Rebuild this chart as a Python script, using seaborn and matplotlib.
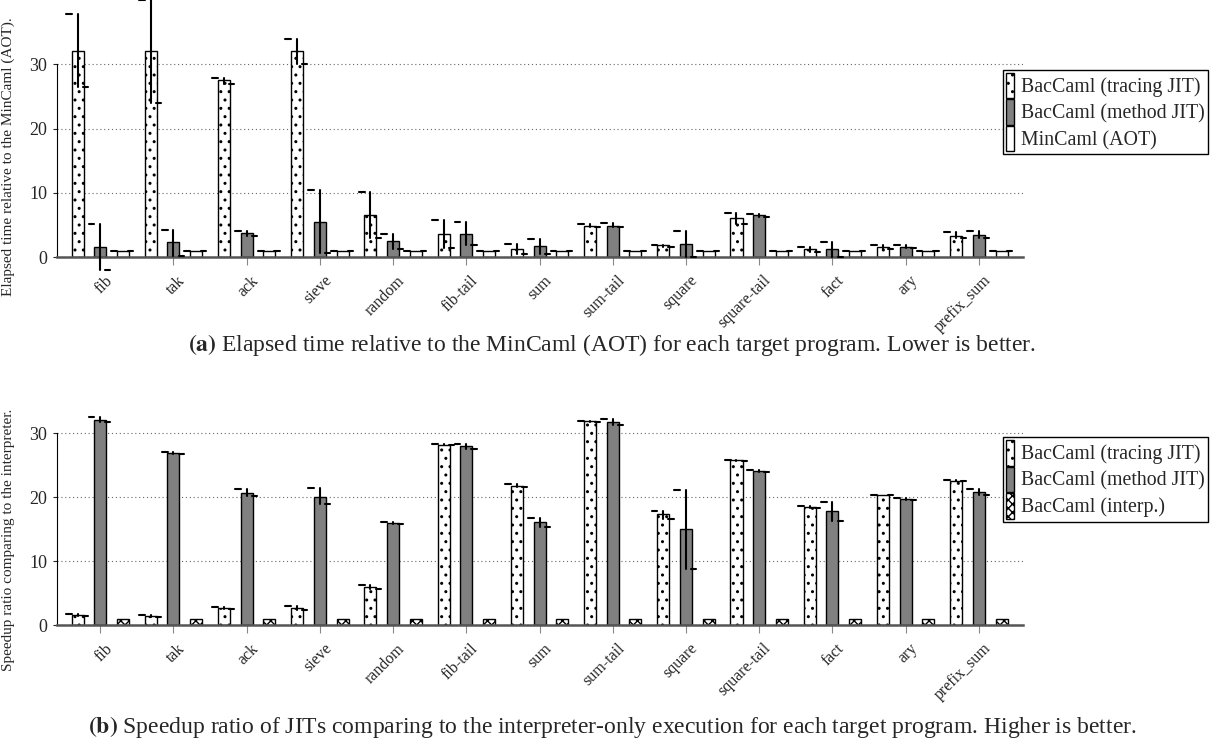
import numpy as np
import pandas as pd
import matplotlib
matplotlib.use('Agg')
import matplotlib.pyplot as plt
import matplotlib.transforms as mtrans
import seaborn as sns

programs = ['fib', 'tak', 'ack', 'sieve', 'random', 'fib-tail', 'sum', 'sum-tail',
            'square', 'square-tail', 'fact', 'ary', 'prefix_sum']

# %% (a) elapsed time relative to MinCaml (AOT)
a_tracing    = [32.0, 32.0, 27.5, 32.0, 6.5, 3.65, 1.3, 4.9, 1.8, 6.0, 1.3, 1.6, 3.3]
a_tracing_lo = [26.5, 24.0, 27.0, 30.0, 2.9, 1.4, 0.4, 4.6, 1.6, 5.2, 0.8, 1.3, 3.0]
a_tracing_hi = [37.8, 40.0, 27.8, 34.0, 10.1, 5.7, 2.0, 5.2, 1.9, 6.9, 1.5, 1.9, 3.9]
a_method     = [1.6, 2.3, 3.7, 5.5, 2.5, 3.65, 1.7, 4.9, 2.0, 6.5, 1.2, 1.6, 3.5]
a_method_lo  = [-2.0, 0.2, 3.3, 0.6, 1.2, 1.8, 0.5, 4.6, 0.0, 6.2, 0.0, 1.4, 3.0]
a_method_hi  = [5.2, 4.2, 4.1, 10.4, 3.6, 5.5, 2.8, 5.3, 4.1, 6.7, 2.3, 1.9, 4.1]
a_aot        = [1.0, 1.0, 1.0, 1.0, 1.0, 1.0, 1.0, 1.0, 1.0, 1.0, 1.0, 1.0, 1.0]

# %% (b) speedup ratio compared to the interpreter
b_tracing    = [1.55, 1.45, 2.7, 2.7, 6.0, 28.2, 21.8, 31.9, 17.3, 25.8, 18.5, 20.3, 22.6]
b_tracing_lo = [1.4, 1.3, 2.5, 2.4, 5.7, 28.1, 21.6, 31.8, 16.6, 25.7, 18.3, 20.3, 22.5]
b_tracing_hi = [1.7, 1.6, 2.9, 3.0, 6.3, 28.3, 22.0, 32.0, 17.8, 25.9, 18.6, 20.4, 22.7]
b_method     = [32.1, 27.0, 20.7, 20.1, 16.0, 28.0, 16.1, 31.8, 15.1, 24.1, 17.8, 19.7, 20.8]
b_method_lo  = [31.7, 26.8, 20.2, 19.0, 15.8, 27.5, 15.3, 31.3, 8.8, 23.9, 16.3, 19.5, 20.4]
b_method_hi  = [32.5, 27.1, 21.3, 21.4, 16.2, 28.4, 16.7, 32.3, 21.2, 24.2, 19.3, 19.9, 21.3]
b_interp     = [1.0, 1.0, 1.0, 1.0, 1.0, 1.0, 1.0, 1.0, 1.0, 1.0, 1.0, 1.0, 1.0]

labels_a = ['BacCaml (tracing JIT)', 'BacCaml (method JIT)', 'MinCaml (AOT)']
labels_b = ['BacCaml (tracing JIT)', 'BacCaml (method JIT)', 'BacCaml (interp.)']

sns.set_style('white')
plt.rcParams['font.family'] = ['Liberation Serif', 'DejaVu Serif']
plt.rcParams['hatch.linewidth'] = 1.0
plt.rcParams['mathtext.fontset'] = 'stix'


def long_table(series, labels):
    rows = []
    for vals, lab in zip(series, labels):
        for p, v in zip(programs, vals):
            rows.append({'program': p, 'value': v, 'kind': lab})
    return pd.DataFrame(rows)


def draw_panel(ax, series, errs, labels, hatches, ylim, ylabel, label_y):
    df = long_table(series, labels)
    palette = {labels[0]: 'white', labels[1]: '#808080', labels[2]: 'white'}
    sns.barplot(data=df, x='program', y='value', hue='kind', hue_order=labels,
                order=programs, palette=palette, edgecolor='black', linewidth=1.0,
                width=0.93, gap=0.47, errorbar=None, legend=False, ax=ax)
    for cont, h in zip(ax.containers, hatches):
        for bar in cont:
            bar.set_hatch(h)

    # gnuplot style error bars: stem, cap up-left, cap down-right
    for cont, err in zip(ax.containers, errs):
        if err is None:
            continue
        lo, hi = err
        for bar, l, h in zip(cont, lo, hi):
            xc = bar.get_x() + bar.get_width() / 2
            ax.plot([xc, xc], [l, h], color='black', lw=1.5, clip_on=False, zorder=5)
            ax.plot([xc - 0.16, xc - 0.08], [h, h], color='black', lw=1.5, clip_on=False, zorder=5)
            ax.plot([xc + 0.07, xc + 0.14], [l, l], color='black', lw=1.5, clip_on=False, zorder=5)

    ax.set_xlim(-0.59, 12.6)
    ax.set_ylim(*ylim)
    ax.set_yticks([0, 10, 20, 30])
    ax.yaxis.grid(True, linestyle=(0, (1, 2.5)), color='#666666', lw=0.8)
    ax.set_axisbelow(True)
    for s in ['top', 'right']:
        ax.spines[s].set_visible(False)
    ax.spines['left'].set_color('black')
    ax.spines['left'].set_linewidth(0.8)
    ax.spines['left'].set_bounds(0, 30)
    ax.spines['bottom'].set_color('#555555')
    ax.spines['bottom'].set_linewidth(1.8)
    ax.tick_params(axis='y', length=3, width=0.8, labelsize=13, pad=4, left=True)
    ax.tick_params(axis='x', length=6, width=0.8, color='#888888', direction='out',
                   labelsize=11.5, pad=3, bottom=True)
    shift = mtrans.ScaledTranslation(0.04, -0.03, ax.figure.dpi_scale_trans)
    for t in ax.get_xticklabels():
        t.set_rotation(45)
        t.set_ha('right')
        t.set_rotation_mode('anchor')
        t.set_transform(t.get_transform() + shift)
    ax.set_xlabel('')
    ax.set_ylabel(ylabel, fontsize=11)
    ax.yaxis.set_label_coords(-0.044, label_y)


fig = plt.figure(figsize=(12.24, 7.48), dpi=100)
ax1 = fig.add_axes([0.0466, 0.6564, 0.789, 0.3436])
ax2 = fig.add_axes([0.0466, 0.1644, 0.789, 0.3075])

draw_panel(ax1, [a_tracing, a_method, a_aot],
           [(a_tracing_lo, a_tracing_hi), (a_method_lo, a_method_hi), (a_aot, a_aot)],
           labels_a, ['..', '', ''], (0, 40),
           'Elapsed time relative to the MinCaml (AOT).', 0.39)
draw_panel(ax2, [b_tracing, b_method, b_interp],
           [(b_tracing_lo, b_tracing_hi), (b_method_lo, b_method_hi), None],
           labels_b, ['..', '', 'xxxx'], (0, 36),
           'Speedup ratio comparing to the interpreter.', 0.37)

for ax, anchor, labs in [(ax1, (0.98, 0.728), labels_a), (ax2, (0.98, 0.817), labels_b)]:
    leg = ax.legend(handles=list(ax.containers), labels=labs, loc='upper left',
                    bbox_to_anchor=anchor, borderaxespad=0, fontsize=14.3,
                    handlelength=0.4, handleheight=1.6, handletextpad=0.35,
                    labelspacing=0.05, borderpad=0.15, fancybox=False, framealpha=1)
    leg.get_frame().set_edgecolor('black')
    leg.get_frame().set_linewidth(1.0)

fig.text(0.5, 1 - 345 / 748, r'$\mathbf{(a)}$ Elapsed time relative to the MinCaml (AOT) for each target program. Lower is better.',
         ha='center', va='center', fontsize=17)
fig.text(0.5, 1 - 727 / 748, r'$\mathbf{(b)}$ Speedup ratio of JITs comparing to the interpreter-only execution for each target program. Higher is better.',
         ha='center', va='center', fontsize=17)

fig.savefig('out.png', dpi=100)
